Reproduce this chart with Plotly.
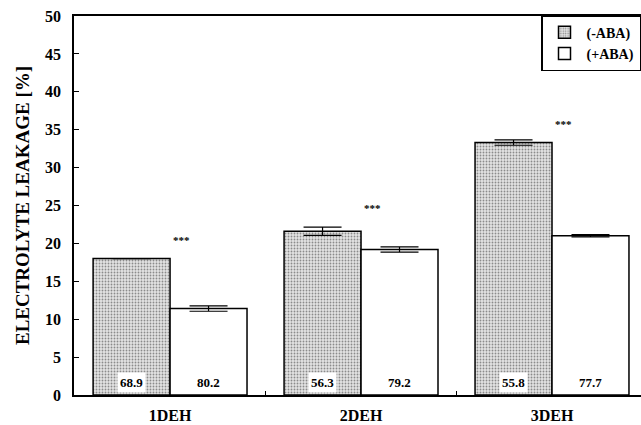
import plotly.graph_objects as go

# Electrolyte leakage after dehydration cycles, with and without ABA
categories = ["1DEH", "2DEH", "3DEH"]
minus_aba = [18.0, 21.6, 33.3]
minus_aba_err = [0.0, 0.55, 0.35]
plus_aba = [11.4, 19.2, 21.0]
plus_aba_err = [0.35, 0.35, 0.15]
# relative water content shown at the base of each bar
minus_aba_labels = ["68.9", "56.3", "55.8"]
plus_aba_labels = ["80.2", "79.2", "77.7"]
# significance markers above each group
sig_marks = ["***", "***", "***"]
sig_heights = [20.4, 24.7, 35.8]

SERIF = "Liberation Serif"


def bold(size):
    return dict(family=SERIF, size=size, color="black", weight="bold")


fig = go.Figure()
fig.add_trace(go.Bar(
    x=categories, y=minus_aba, name="(-ABA)",
    marker=dict(color="white", line=dict(color="black", width=1.5),
                pattern=dict(shape=".", fgcolor="#333333", bgcolor="#e3e3e3",
                             size=3, solidity=0.3)),
    error_y=dict(type="data", array=minus_aba_err, color="black",
                 thickness=1.2, width=19),
))
fig.add_trace(go.Bar(
    x=categories, y=plus_aba, name="(+ABA)",
    marker=dict(color="white", line=dict(color="black", width=1.5)),
    error_y=dict(type="data", array=plus_aba_err, color="black",
                 thickness=1.2, width=19),
))

annotations = []
bar_shift = 0.2
for i, cat in enumerate(categories):
    annotations.append(dict(
        x=i - bar_shift, y=1.7, xref="x", yref="y", text=minus_aba_labels[i],
        showarrow=False, bgcolor="white", borderpad=2, font=bold(13)))
    annotations.append(dict(
        x=i + bar_shift, y=1.7, xref="x", yref="y", text=plus_aba_labels[i],
        showarrow=False, font=bold(13)))
    annotations.append(dict(
        x=i + 0.06, y=sig_heights[i], xref="x", yref="y", text=sig_marks[i],
        showarrow=False, font=bold(11)))

fig.update_layout(
    width=641, height=425,
    margin=dict(l=74, r=0, t=16, b=30),
    paper_bgcolor="white", plot_bgcolor="white",
    barmode="group", bargap=0.194, bargroupgap=0,
    font=dict(family=SERIF, color="black"),
    annotations=annotations,
    legend=dict(
        x=1, y=1.002, xanchor="right", yanchor="top",
        bordercolor="black", borderwidth=1.5, bgcolor="white",
        font=bold(14),
        tracegroupgap=0, itemwidth=34,
    ),
    showlegend=True,
)
fig.update_xaxes(
    type="category", range=[-0.503, 2.466], automargin=False,
    showline=True, linecolor="black", linewidth=1.5, mirror=True,
    ticks="inside", tickson="boundaries", ticklen=4, tickcolor="black",
    tickfont=bold(16), ticklabelstandoff=5,
    showgrid=False, zeroline=False,
)
fig.update_yaxes(
    range=[0, 50], dtick=5,
    showline=True, linecolor="black", linewidth=1.5,
    ticks="inside", ticklen=5, tickcolor="black",
    tickfont=bold(16), ticklabelstandoff=8,
    showgrid=False, zeroline=False,
    title=dict(text="ELECTROLYTE LEAKAGE [%]", standoff=10, font=bold(19)),
)

fig.write_html("out.html")
